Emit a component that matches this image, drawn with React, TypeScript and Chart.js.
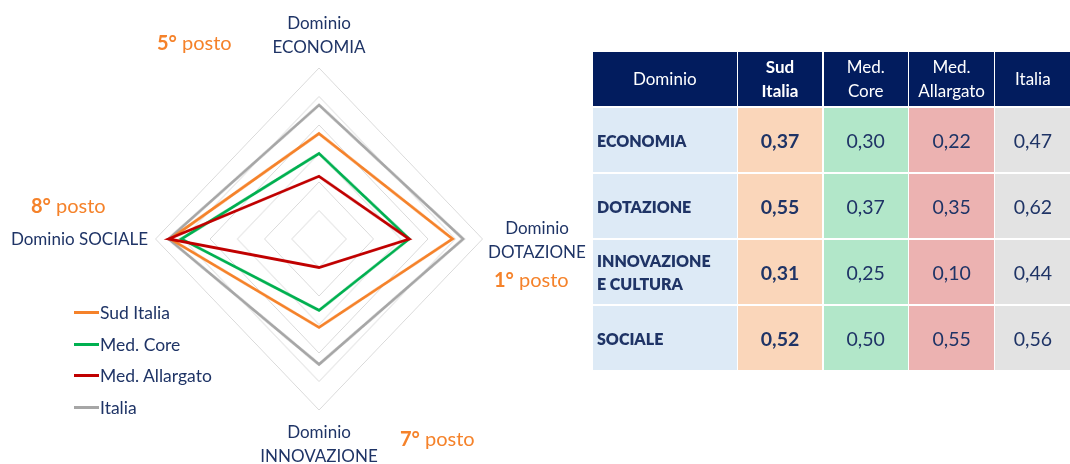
import React, { useEffect, useRef } from "react";
import { Chart, registerables } from "chart.js";

Chart.register(...registerables);

// ---------- data ----------
const radarAxes = ["ECONOMIA", "DOTAZIONE", "INNOVAZIONE", "SOCIALE"];
const seriesNames = ["Sud Italia", "Med. Core", "Med. Allargato", "Italia"];
const seriesColors = ["#F5822A", "#00B050", "#C00000", "#A6A6A6"];

// values as drawn on the radar (scale 0 – 0.6)
const sudRadar = [0.37, 0.49, 0.31, 0.546];
const coreRadar = [0.3, 0.331, 0.25, 0.505];
const allargatoRadar = [0.22, 0.331, 0.1, 0.552];
const italiaRadar = [0.47, 0.529, 0.44, 0.552];

const rankLabels = ["5°", "1°", "7°", "8°"];

// table
const tableHeaders = ["Dominio", "Sud\nItalia", "Med.\nCore", "Med.\nAllargato", "Italia"];
const tableDomains = ["ECONOMIA", "DOTAZIONE", "INNOVAZIONE\nE CULTURA", "SOCIALE"];
const sudTable = ["0,37", "0,55", "0,31", "0,52"];
const coreTable = ["0,30", "0,37", "0,25", "0,50"];
const allargatoTable = ["0,22", "0,35", "0,10", "0,55"];
const italiaTable = ["0,47", "0,62", "0,44", "0,56"];

const R_MAX = 0.6;
const R_STEP = 0.1;

// ---------- styles ----------
const FONT = "Lato, 'Noto Sans', sans-serif";
const NAVY = "#1F3466";
const ORANGE = "#F5822A";
const HEADER_BG = "#021C5E";
const ROW_BG = "#DDEAF6";
const COL_BG = ["#FAD6BA", "#B2E7C9", "#ECB2B1", "#E3E3E3"];

function RadarChart() {
  const ref = useRef<HTMLCanvasElement | null>(null);
  useEffect(() => {
    if (!ref.current) return;
    const values = [sudRadar, coreRadar, allargatoRadar, italiaRadar];
    const orders = [2, 1, 0, 3];
    const chart = new Chart(ref.current, {
      type: "radar",
      data: {
        labels: radarAxes,
        datasets: seriesNames.map((name, i) => ({
          label: name,
          data: values[i],
          borderColor: seriesColors[i],
          backgroundColor: "transparent",
          borderWidth: 2.8,
          fill: false,
          pointRadius: 0,
          pointHoverRadius: 0,
          tension: 0,
          order: orders[i],
        })),
      },
      options: {
        animation: false,
        responsive: false,
        maintainAspectRatio: false,
        layout: { padding: { top: 68, bottom: 54, left: 148, right: 150 } },
        plugins: { legend: { display: false }, tooltip: { enabled: false } },
        scales: {
          r: {
            min: 0,
            max: R_MAX,
            ticks: { display: false, stepSize: R_STEP },
            grid: { circular: false, color: "#D9D9D9", lineWidth: 1 },
            angleLines: { display: false },
            pointLabels: { display: false },
          },
        },
      },
    });
    return () => chart.destroy();
  }, []);
  return <canvas ref={ref} width={640} height={464} style={{ width: 640, height: 464, display: "block" }} />;
}

const abs = (o: React.CSSProperties): React.CSSProperties => ({ position: "absolute", ...o });

function Rank({ i, style }: { i: number; style: React.CSSProperties }) {
  return (
    <div style={abs({ color: ORANGE, fontSize: 20, fontFamily: FONT, whiteSpace: "nowrap", lineHeight: "22px", ...style })}>
      <b>{rankLabels[i]}</b> posto
    </div>
  );
}

function AxisLabel({ text, style }: { text: string; style: React.CSSProperties }) {
  return (
    <div
      style={abs({
        color: NAVY,
        fontSize: 17,
        fontFamily: FONT,
        lineHeight: "23.5px",
        whiteSpace: "pre",
        textAlign: "center",
        ...style,
      })}
    >
      {text}
    </div>
  );
}

function Table() {
  const cols = [sudTable, coreTable, allargatoTable, italiaTable];
  const cells: React.ReactNode[] = [];
  tableHeaders.forEach((h, j) => {
    cells.push(
      <div
        key={"h" + j}
        style={{
          background: HEADER_BG,
          color: "#fff",
          display: "flex",
          alignItems: "center",
          justifyContent: "center",
          textAlign: "center",
          whiteSpace: "pre",
          fontSize: 17,
          lineHeight: "24px",
          fontWeight: j === 1 ? 700 : 400,
        }}
      >
        {h}
      </div>
    );
  });
  tableDomains.forEach((d, r) => {
    cells.push(
      <div
        key={"d" + r}
        style={{
          background: ROW_BG,
          color: NAVY,
          display: "flex",
          alignItems: "center",
          paddingLeft: 4,
          whiteSpace: "pre",
          fontSize: 16,
          lineHeight: "23px",
          fontWeight: 800,
        }}
      >
        {d}
      </div>
    );
    cols.forEach((c, j) => {
      cells.push(
        <div
          key={"c" + r + "-" + j}
          style={{
            background: COL_BG[j],
            color: NAVY,
            display: "flex",
            alignItems: "center",
            justifyContent: "center",
            fontSize: 19.5,
            fontWeight: j === 0 ? 700 : 400,
          }}
        >
          {c[r]}
        </div>
      );
    });
  });
  return (
    <div
      style={abs({
        left: 593,
        top: 52,
        display: "grid",
        gridTemplateColumns: "143.5px 84.3px 84.3px 84.7px 75px",
        gridTemplateRows: "54px 64px 64px 64px 64px",
        columnGap: 1.4,
        rowGap: 2,
        fontFamily: FONT,
      })}
    >
      {cells}
    </div>
  );
}

export default function App() {
  return (
    <div style={abs({ left: 0, top: 0, width: 1070, height: 464, background: "#fff", overflow: "hidden", fontFamily: FONT })}>
      <div style={abs({ left: 0, top: 0, width: 640, height: 464, transform: "scaleX(0.956)", transformOrigin: "319px 50%" })}>
        <RadarChart />
      </div>

      <AxisLabel text={"Dominio\nECONOMIA"} style={{ left: 219, width: 200, top: 11 }} />
      <AxisLabel text={"Dominio\nDOTAZIONE"} style={{ left: 437, width: 200, top: 216 }} />
      <AxisLabel text={"Dominio\nINNOVAZIONE"} style={{ left: 219, width: 200, top: 420 }} />
      <AxisLabel text={"Dominio SOCIALE"} style={{ right: 1070 - 148, top: 227, textAlign: "right" }} />

      <Rank i={0} style={{ left: 157, top: 31 }} />
      <Rank i={1} style={{ left: 494, top: 268 }} />
      <Rank i={2} style={{ left: 400, top: 427 }} />
      <Rank i={3} style={{ left: 31, top: 194 }} />

      <div style={abs({ left: 74, top: 297 })}>
        {seriesNames.map((n, i) => (
          <div key={n} style={{ display: "flex", alignItems: "center", height: 31.6 }}>
            <div style={{ width: 25, height: 3, background: seriesColors[i], marginRight: 1 }} />
            <div style={{ color: NAVY, fontSize: 17.5, fontFamily: FONT, whiteSpace: "nowrap" }}>{n}</div>
          </div>
        ))}
      </div>

      <Table />
    </div>
  );
}
